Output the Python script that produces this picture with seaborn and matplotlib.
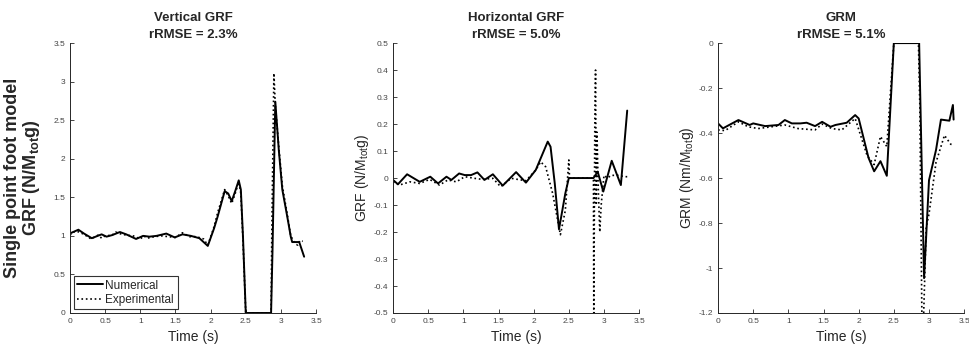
import numpy as np
import matplotlib
matplotlib.use("Agg")
import matplotlib.pyplot as plt
from matplotlib.ticker import FormatStrFormatter, MultipleLocator
import seaborn as sns

# ---- data ----
# vertical GRF
vt_num = [0, 0.02, 0.12, 0.2, 0.31, 0.45, 0.52, 0.6, 0.71, 0.8, 0.94, 1.04, 1.13, 1.23, 1.37, 1.49, 1.6,
          1.72, 1.84, 1.96, 2.05, 2.1, 2.2, 2.25, 2.3, 2.35, 2.4, 2.43, 2.46, 2.5, 2.86, 2.88, 2.92,
          2.97, 3.02, 3.09, 3.14, 3.16, 3.26, 3.33]
vv_num = [1.03, 1.04, 1.08, 1.03, 0.97, 1.02, 0.99, 1.01, 1.05, 1.02, 0.96, 1.0, 0.99, 1.0, 1.03, 0.98,
          1.02, 1.0, 0.97, 0.87, 1.1, 1.25, 1.58, 1.55, 1.45, 1.58, 1.72, 1.6, 1.0, 0.0, 0.0, 0.8, 2.74,
          2.11, 1.6, 1.25, 0.99, 0.92, 0.92, 0.73]
vt_exp = [0, 0.05, 0.1, 0.15, 0.2, 0.3, 0.4, 0.45, 0.5, 0.6, 0.65, 0.7, 0.8, 0.9, 1.0, 1.05, 1.1, 1.2, 1.3,
          1.4, 1.5, 1.6, 1.7, 1.8, 1.9, 1.96, 2.05, 2.1, 2.2, 2.25, 2.3, 2.35, 2.4, 2.43, 2.46, 2.5, 2.86,
          2.87, 2.9, 2.92, 2.97, 3.02, 3.09, 3.14, 3.2, 3.24, 3.27, 3.31]
vv_exp = [1.01, 1.05, 1.06, 1.04, 1.02, 0.96, 1.01, 0.97, 1.0, 1.01, 1.05, 1.03, 1.01, 1.0, 0.96, 1.0, 0.97,
          0.99, 1.0, 0.99, 0.98, 1.04, 0.99, 0.99, 0.96, 0.88, 1.12, 1.3, 1.6, 1.52, 1.42, 1.55, 1.7, 1.55,
          0.95, 0.0, 0.0, 1.0, 3.11, 2.7, 2.15, 1.65, 1.28, 1.0, 0.9, 0.88, 0.94, 0.93]

# horizontal GRF
ht_num = [0, 0.07, 0.2, 0.38, 0.53, 0.64, 0.76, 0.83, 0.94, 1.02, 1.11, 1.2, 1.3, 1.42, 1.56, 1.75,
          1.89, 2.03, 2.2, 2.24, 2.3, 2.36, 2.45, 2.5, 2.85, 2.91, 2.99, 3.11, 3.24, 3.33]
hv_num = [-0.007, -0.023, 0.014, -0.014, 0.005, -0.02, 0.005, -0.007, 0.017, 0.011, 0.011, 0.021,
          -0.007, 0.014, -0.028, 0.022, -0.017, 0.03, 0.135, 0.116, -0.02, -0.19, -0.057, 0.0, 0.0,
          0.024, -0.05, 0.064, -0.026, 0.25]
ht_exp = [0, 0.09, 0.24, 0.38, 0.52, 0.66, 0.78, 0.9, 1.02, 1.16, 1.27, 1.42, 1.53, 1.68, 1.89, 2.03,
          2.1, 2.17, 2.27, 2.38, 2.45, 2.5, 2.51, 2.85, 2.855, 2.87, 2.88, 2.89, 2.9, 2.92, 2.94, 2.96,
          3.0, 3.05, 3.1, 3.2, 3.3, 3.33]
hv_exp = [-0.014, -0.026, -0.014, -0.02, -0.005, -0.026, -0.007, -0.014, 0.005, -0.001, -0.005, -0.001,
          -0.032, -0.001, -0.01, 0.03, 0.06, 0.042, -0.057, -0.21, -0.12, 0.067, 0.0, 0.0, -0.5, 0.22,
          0.4, -0.1, 0.17, -0.05, -0.2, -0.1, 0.01, 0.0, 0.01, 0.01, 0.005, 0.005]

# GRM
mt_num = [0, 0.07, 0.29, 0.45, 0.5, 0.67, 0.86, 0.95, 1.05, 1.17, 1.26, 1.38, 1.48, 1.6, 1.67, 1.83, 1.95,
          2.0, 2.14, 2.22, 2.31, 2.4, 2.5, 2.86, 2.93, 3.0, 3.1, 3.17, 3.29, 3.34, 3.35]
mv_num = [-0.357, -0.379, -0.342, -0.364, -0.357, -0.369, -0.364, -0.342, -0.357, -0.357, -0.354, -0.369,
          -0.35, -0.372, -0.364, -0.354, -0.32, -0.335, -0.51, -0.57, -0.525, -0.59, 0.0, 0.0, -1.045,
          -0.61, -0.475, -0.34, -0.345, -0.275, -0.34]
mt_exp = [0, 0.1, 0.29, 0.43, 0.57, 0.76, 0.95, 1.14, 1.38, 1.48, 1.62, 1.76, 1.95, 2.12, 2.22, 2.31, 2.4,
          2.5, 2.85, 2.87, 2.9, 2.92, 2.96, 3.0, 3.1, 3.22, 3.31, 3.35]
mv_exp = [-0.386, -0.389, -0.35, -0.372, -0.38, -0.372, -0.364, -0.38, -0.386, -0.36, -0.38, -0.386,
          -0.335, -0.5, -0.54, -0.415, -0.46, 0.0, 0.0, -0.28, -1.25, -1.25, -0.82, -0.76, -0.53, -0.41,
          -0.45, -0.45]

titles = ["Vertical GRF\nrRMSE = 2.3%", "Horizontal GRF\nrRMSE = 5.0%", "GRM\nrRMSE = 5.1%"]
ylabels = ["Single point foot model\nGRF (N/M$_{\\mathbf{tot}}$g)", "GRF (N/M$_{tot}$g)",
           "GRM (Nm/M$_{tot}$g)"]
ylims = [(0, 3.5), (-0.5, 0.5), (-1.2, 0)]
ysteps = [0.5, 0.1, 0.2]
series = [(vt_num, vv_num, vt_exp, vv_exp), (ht_num, hv_num, ht_exp, hv_exp),
          (mt_num, mv_num, mt_exp, mv_exp)]

sns.set_style("ticks")
plt.rcParams["font.family"] = ["Liberation Sans", "DejaVu Sans"]
plt.rcParams["mathtext.fontset"] = "custom"
plt.rcParams["mathtext.rm"] = "Liberation Sans"
plt.rcParams["mathtext.it"] = "Liberation Sans"
plt.rcParams["mathtext.bf"] = "Liberation Sans:bold"

fig = plt.figure(figsize=(9.69, 3.46), dpi=100)
lefts = [0.0722, 0.4056, 0.741]
axes = [fig.add_axes([l, 0.0954, 0.254, 0.780]) for l in lefts]

axc = "#262626"
for i, ax in enumerate(axes):
    tn, vn, te, ve = series[i]
    sns.lineplot(x=tn, y=vn, ax=ax, color="black", linewidth=1.4, label="Numerical",
                 estimator=None, sort=False)
    sns.lineplot(x=te, y=ve, ax=ax, color="black", linewidth=1.2, linestyle=":",
                 label="Experimental", estimator=None, sort=False)
    ax.set_xlim(0, 3.5)
    ax.set_ylim(*ylims[i])
    ax.xaxis.set_major_locator(MultipleLocator(0.5))
    ax.yaxis.set_major_locator(MultipleLocator(ysteps[i]))
    ax.xaxis.set_major_formatter(FormatStrFormatter("%g"))
    ax.yaxis.set_major_formatter(plt.FuncFormatter(lambda v, p: "%g" % round(v, 2)))
    ax.tick_params(labelsize=6, colors=axc, labelcolor="#444444", length=3, width=0.6, direction="in")
    for s in ["left", "bottom"]:
        ax.spines[s].set_color(axc)
        ax.spines[s].set_linewidth(0.7)
    sns.despine(ax=ax)
    ax.set_title(titles[i], fontsize=9.5, fontweight="bold", pad=4, linespacing=1.5)
    ax.set_xlabel("Time (s)", fontsize=10, color=axc)
    if i == 0:
        ax.set_ylabel(ylabels[i], fontsize=13, fontweight="bold", color=axc, linespacing=0.95)
        ax.yaxis.set_label_coords(-0.115, 0.5)
        leg = ax.legend(loc="lower left", fontsize=8.5, frameon=True, fancybox=False,
                        handlelength=2.2, borderpad=0.3, labelspacing=0.2, handletextpad=0.2,
                        borderaxespad=0.3)
        leg.get_frame().set_edgecolor("black")
        leg.get_frame().set_linewidth(0.8)
    else:
        ax.set_ylabel(ylabels[i], fontsize=10, color=axc, labelpad=2)
        ax.get_legend().remove()

fig.savefig("out.png", dpi=100)
